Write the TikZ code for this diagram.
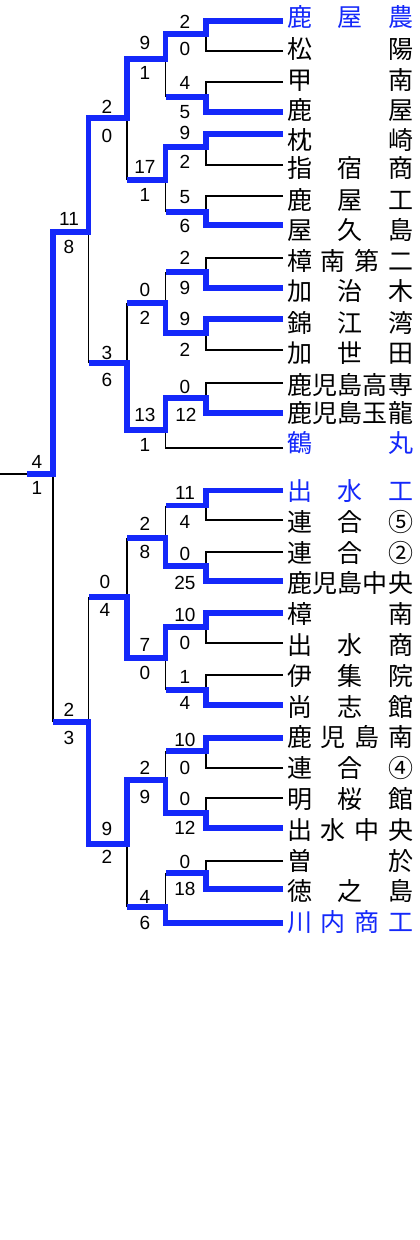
\documentclass[tikz,border=0pt]{standalone}
\usepackage{fontspec}
\setmainfont{Liberation Sans}
\newfontfamily\cjk{Noto Sans CJK JP}
\definecolor{tblue}{RGB}{20,40,250}
\newcommand\tnm[2]{\raisebox{-#1pt}{\makebox[126pt]{#2}}}
\newcommand\hf{\hfill}
\begin{document}
\begin{tikzpicture}[x=1pt,y=-1pt,
 win/.style={draw=tblue,line width=5.3pt,line join=miter},
 lose/.style={draw=black,line width=1.1pt},
 team/.style={anchor=west,inner xsep=4pt,inner ysep=0pt,text height=12pt,text depth=12pt,font=\cjk\fontsize{25}{25}\selectfont},
 seed/.style={team,text=tblue},
 score/.style={inner sep=0pt,font=\fontsize{19}{19}\selectfont}]
\useasboundingbox[fill=white] (0,0) rectangle (420,1240);
% teams top half
\node[seed] (t1) at (283,21) {\tnm{5}{鹿\hf 屋\hf 農}};
\node[team] (t2) at (283,51) {\tnm{7.5}{松\hf 陽}};
\node[team] (t3) at (283,82) {\tnm{7.4}{甲\hf 南}};
\node[team] (t4) at (283,112) {\tnm{7.5}{鹿\hf 屋}};
\node[team] (t5) at (283,134) {\tnm{15}{枕\hf 崎}};
\node[team] (t6) at (283,165) {\tnm{12.9}{指\hf 宿\hf 商}};
\node[team] (t7) at (283,196) {\tnm{13.5}{鹿\hf 屋\hf 工}};
\node[team] (t8) at (283,225) {\tnm{14.4}{屋\hf 久\hf 島}};
\node[team] (t9) at (283,258) {\tnm{12.5}{樟\hf 南\hf 第\hf 二}};
\node[team] (t10) at (283,288) {\tnm{12.5}{加\hf 治\hf 木}};
\node[team] (t11) at (283,319) {\tnm{13}{錦\hf 江\hf 湾}};
\node[team] (t12) at (283,350) {\tnm{12.5}{加\hf 世\hf 田}};
\node[team] (t13) at (283,383) {\tnm{11.5}{鹿\hf 児\hf 島\hf 高\hf 専}};
\node[team] (t14) at (283,413) {\tnm{9.5}{鹿\hf 児\hf 島\hf 玉\hf 龍}};
\node[seed] (t15) at (283,448) {\tnm{4.5}{鶴\hf 丸}};
% teams bottom half
\node[seed] (b1) at (283,490.5) {\tnm{10.4}{出\hf 水\hf 工}};
\node[team] (b2) at (283,520) {\tnm{11.3}{連\hf 合\hf ⑤}};
\node[team] (b3) at (283,552) {\tnm{10.1}{連\hf 合\hf ②}};
\node[team] (b4) at (283,581) {\tnm{11.4}{鹿\hf 児\hf 島\hf 中\hf 央}};
\node[team] (b5) at (283,613) {\tnm{10.7}{樟\hf 南}};
\node[team] (b6) at (283,643) {\tnm{11.5}{出\hf 水\hf 商}};
\node[team] (b7) at (283,675) {\tnm{10.3}{伊\hf 集\hf 院}};
\node[team] (b8) at (283,705) {\tnm{11.1}{尚\hf 志\hf 館}};
\node[team] (b9) at (283,738) {\tnm{8.9}{鹿\hf 児\hf 島\hf 南}};
\node[team] (b10) at (283,768) {\tnm{9.7}{連\hf 合\hf ④}};
\node[team] (b11) at (283,798) {\tnm{10.5}{明\hf 桜\hf 館}};
\node[team] (b12) at (283,828) {\tnm{11.3}{出\hf 水\hf 中\hf 央}};
\node[team] (b13) at (283,861) {\tnm{9.1}{曽\hf 於}};
\node[team] (b14) at (283,889) {\tnm{11.9}{徳\hf 之\hf 島}};
\node[seed] (b15) at (283,923) {\tnm{8.7}{川\hf 内\hf 商\hf 工}};
% junctions
\coordinate (a1) at (206,34);
\coordinate (a2) at (206,97);
\coordinate (a3) at (206,147);
\coordinate (a4) at (206,212);
\coordinate (a5) at (206,272);
\coordinate (a6) at (206,333);
\coordinate (a7) at (206,398);
\coordinate (c1) at (165.5,59);
\coordinate (c2) at (165.5,180);
\coordinate (c3) at (165.5,303);
\coordinate (c4) at (165.5,430);
\coordinate (d1) at (127,118);
\coordinate (d2) at (127,363);
\coordinate (e1) at (88.5,232);
\coordinate (p1) at (206,505.5);
\coordinate (p2) at (206,566);
\coordinate (p3) at (206,627);
\coordinate (p4) at (206,690);
\coordinate (p5) at (206,751);
\coordinate (p6) at (206,813);
\coordinate (p7) at (206,873);
\coordinate (q1) at (165.5,538);
\coordinate (q2) at (165.5,658);
\coordinate (q3) at (165.5,780);
\coordinate (q4) at (165.5,907);
\coordinate (r1) at (127,597);
\coordinate (r2) at (127,844);
\coordinate (s1) at (88.5,722);
\coordinate (f) at (53,474);
\coordinate (ch) at (27,474);
\coordinate (ce) at (0,474);
% losing connectors
\draw[lose] (t2.west) -- (t2.west -| a1) -- (a1);
\draw[lose] (t3.west) -- (t3.west -| a2) -- (a2);
\draw[lose] (t6.west) -- (t6.west -| a3) -- (a3);
\draw[lose] (t7.west) -- (t7.west -| a4) -- (a4);
\draw[lose] (t9.west) -- (t9.west -| a5) -- (a5);
\draw[lose] (t12.west) -- (t12.west -| a6) -- (a6);
\draw[lose] (t13.west) -- (t13.west -| a7) -- (a7);
\draw[lose] (t15.west) -- (t15.west -| c4) -- (c4);
\draw[lose] (a2 -| c1) -- (c1);
\draw[lose] (a4 -| c2) -- (c2);
\draw[lose] (a5 -| c3) -- (c3);
\draw[lose] (c2 -| d1) -- (d1);
\draw[lose] (c3 -| d2) -- (d2);
\draw[lose] (d2 -| e1) -- (e1);
\draw[lose] (b2.west) -- (b2.west -| p1) -- (p1);
\draw[lose] (b3.west) -- (b3.west -| p2) -- (p2);
\draw[lose] (b6.west) -- (b6.west -| p3) -- (p3);
\draw[lose] (b7.west) -- (b7.west -| p4) -- (p4);
\draw[lose] (b10.west) -- (b10.west -| p5) -- (p5);
\draw[lose] (b11.west) -- (b11.west -| p6) -- (p6);
\draw[lose] (b13.west) -- (b13.west -| p7) -- (p7);
\draw[lose] (p1 -| q1) -- (q1);
\draw[lose] (p4 -| q2) -- (q2);
\draw[lose] (p5 -| q3) -- (q3);
\draw[lose] (p7 -| q4) -- (q4);
\draw[lose] (q1 -| r1) -- (r1);
\draw[lose] (q4 -| r2) -- (r2);
\draw[lose] (r1 -| s1) -- (s1);
\draw[lose] (s1 -| f) -- (f);
\draw[lose] (ch) -- (ce);
% winning connectors
\draw[win] (t1.west) -- (t1.west -| a1) -- (a1) -- (a1 -| c1);
\draw[win] (t4.west) -- (t4.west -| a2) -- (a2) -- (a2 -| c1);
\draw[win] (t5.west) -- (t5.west -| a3) -- (a3) -- (a3 -| c2);
\draw[win] (t8.west) -- (t8.west -| a4) -- (a4) -- (a4 -| c2);
\draw[win] (t10.west) -- (t10.west -| a5) -- (a5) -- (a5 -| c3);
\draw[win] (t11.west) -- (t11.west -| a6) -- (a6) -- (a6 -| c3);
\draw[win] (t14.west) -- (t14.west -| a7) -- (a7) -- (a7 -| c4);
\draw[win] (a1) -- (a1 -| c1) -- (c1) -- (c1 -| d1);
\draw[win] (a3) -- (a3 -| c2) -- (c2) -- (c2 -| d1);
\draw[win] (a6) -- (a6 -| c3) -- (c3) -- (c3 -| d2);
\draw[win] (a7) -- (a7 -| c4) -- (c4) -- (c4 -| d2);
\draw[win] (c1) -- (c1 -| d1) -- (d1) -- (d1 -| e1);
\draw[win] (c4) -- (c4 -| d2) -- (d2) -- (d2 -| e1);
\draw[win] (d1) -- (d1 -| e1) -- (e1) -- (e1 -| f);
\draw[win] (b1.west) -- (b1.west -| p1) -- (p1) -- (p1 -| q1);
\draw[win] (b4.west) -- (b4.west -| p2) -- (p2) -- (p2 -| q1);
\draw[win] (b5.west) -- (b5.west -| p3) -- (p3) -- (p3 -| q2);
\draw[win] (b8.west) -- (b8.west -| p4) -- (p4) -- (p4 -| q2);
\draw[win] (b9.west) -- (b9.west -| p5) -- (p5) -- (p5 -| q3);
\draw[win] (b12.west) -- (b12.west -| p6) -- (p6) -- (p6 -| q3);
\draw[win] (b14.west) -- (b14.west -| p7) -- (p7) -- (p7 -| q4);
\draw[win] (b15.west) -- (b15.west -| q4) -- (q4) -- (q4 -| r2);
\draw[win] (p2) -- (p2 -| q1) -- (q1) -- (q1 -| r1);
\draw[win] (p3) -- (p3 -| q2) -- (q2) -- (q2 -| r1);
\draw[win] (p6) -- (p6 -| q3) -- (q3) -- (q3 -| r2);
\draw[win] (q2) -- (q2 -| r1) -- (r1) -- (r1 -| s1);
\draw[win] (q3) -- (q3 -| r2) -- (r2) -- (r2 -| s1);
\draw[win] (r2) -- (r2 -| s1) -- (s1) -- (s1 -| f);
\draw[win] (e1) -- (e1 -| f) -- (f) -- (ch);
% scores
\node[score] (n1) at (185,22) {2};
\node[score] (n2) at (185,49) {0};
\node[score] (n3) at (185,83) {4};
\node[score] (n4) at (185,112) {5};
\node[score] (n5) at (185,133) {9};
\node[score] (n6) at (185,162) {2};
\node[score] (n7) at (185,197) {5};
\node[score] (n8) at (185,226) {6};
\node[score] (n9) at (185,258) {2};
\node[score] (n10) at (185,288) {9};
\node[score] (n11) at (185,319) {9};
\node[score] (n12) at (185,350) {2};
\node[score] (n13) at (185,387) {0};
\node[score] (n14) at (186,415) {12};
\node[score] (n15) at (145,43) {9};
\node[score] (n16) at (145,73) {1};
\node[score] (n17) at (145,167) {17};
\node[score] (n18) at (145,195) {1};
\node[score] (n19) at (145,290) {0};
\node[score] (n20) at (145,318) {2};
\node[score] (n21) at (145,415) {13};
\node[score] (n22) at (145,445) {1};
\node[score] (n23) at (107,107) {2};
\node[score] (n24) at (107,136) {0};
\node[score] (n25) at (107,353) {3};
\node[score] (n26) at (107,380) {6};
\node[score] (n27) at (69,219) {11};
\node[score] (n28) at (69,247) {8};
\node[score] (n29) at (37,462) {4};
\node[score] (n30) at (37,488) {1};
\node[score] (n31) at (185,493) {11};
\node[score] (n32) at (185,522) {4};
\node[score] (n33) at (185,554) {0};
\node[score] (n34) at (185,583) {25};
\node[score] (n35) at (185,615) {10};
\node[score] (n36) at (185,643) {0};
\node[score] (n37) at (185,677) {1};
\node[score] (n38) at (185,703) {4};
\node[score] (n39) at (185,740) {10};
\node[score] (n40) at (185,768) {0};
\node[score] (n41) at (185,799) {0};
\node[score] (n42) at (185,828) {12};
\node[score] (n43) at (185,862) {0};
\node[score] (n44) at (185,889) {18};
\node[score] (n45) at (145,524) {2};
\node[score] (n46) at (145,552) {8};
\node[score] (n47) at (145,645) {7};
\node[score] (n48) at (145,673) {0};
\node[score] (n49) at (145,768) {2};
\node[score] (n50) at (145,797) {9};
\node[score] (n51) at (145,897) {4};
\node[score] (n52) at (145,923) {6};
\node[score] (n53) at (105,582) {0};
\node[score] (n54) at (105,610) {4};
\node[score] (n55) at (107,829) {9};
\node[score] (n56) at (107,857) {2};
\node[score] (n57) at (69,710) {2};
\node[score] (n58) at (69,738) {3};
\end{tikzpicture}
\end{document}
